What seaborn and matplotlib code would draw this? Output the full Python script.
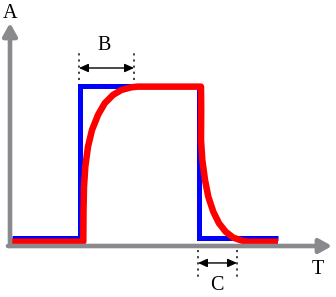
import matplotlib
matplotlib.use("Agg")
import matplotlib.pyplot as plt
import seaborn as sns
import pandas as pd

# ---- data (arbitrary units: T = time, A = amplitude) ----
blue_t = [0.2, 7.0, 7.0, 18.9, 18.9, 26.8]
blue_a = [0.05, 0.05, 1.0, 1.0, 0.05, 0.05]

red_t = [0.2, 7.33, 7.35, 7.4, 7.53, 7.8, 8.2, 8.8, 9.47, 10.3, 11.13, 12.13, 12.8,
         19.1, 19.12, 19.1, 19.23, 19.5, 19.83, 20.33, 20.9, 21.57, 22.33, 23.17, 23.8, 26.8]
red_a = [0.027, 0.027, 0.225, 0.371, 0.496, 0.621, 0.725, 0.819, 0.892, 0.944, 0.975, 0.992, 0.996,
         0.996, 0.85, 0.6625, 0.5375, 0.4125, 0.308, 0.214, 0.142, 0.089, 0.052, 0.034, 0.027, 0.027]

b_span = [6.9, 12.4]      # "B" interval (rise time)
c_span = [18.8, 22.7]     # "C" interval (fall time)
labels = {"A": (0.0, 1.45), "T": (30.8, -0.15), "B": (9.4, 1.25), "C": (20.7, -0.244)}

blue_df = pd.DataFrame({"T": blue_t, "A": blue_a})
red_df = pd.DataFrame({"T": red_t, "A": red_a})

sns.set_style("white")
plt.rcParams["font.family"] = ["Liberation Serif", "DejaVu Serif"]

fig = plt.figure(figsize=(3.36, 2.97), dpi=100)
ax = fig.add_axes([0, 0, 1, 1])

gray = "#8a8a8e"
# axes arrows
ax.annotate("", xy=(0, 1.394), xytext=(0, 0),
            arrowprops=dict(arrowstyle="-|>,head_length=0.75,head_width=0.42",
                            mutation_scale=10, color=gray, lw=3.3,
                            shrinkA=0, shrinkB=0))
ax.annotate("", xy=(32.2, 0), xytext=(-0.2, 0),
            arrowprops=dict(arrowstyle="-|>,head_length=0.75,head_width=0.42",
                            mutation_scale=10, color=gray, lw=3.3,
                            shrinkA=0, shrinkB=0))

sns.lineplot(data=blue_df, x="T", y="A", sort=False, estimator=None, color="#0000ff",
             lw=3.6, ax=ax, solid_joinstyle="miter", solid_capstyle="butt")
sns.lineplot(data=red_df, x="T", y="A", sort=False, estimator=None, color="#ff0000",
             lw=4.7, ax=ax, solid_joinstyle="round", solid_capstyle="butt")
ax.set_xlim(-1.0, 32.6)
ax.set_ylim(-0.31875, 1.5375)
ax.axis("off")

# dimension markers
dot = dict(color="#333333", lw=1.3, ls=(0, (1.2, 2.2)))
for x in b_span:
    ax.plot([x, x], [1.0375, 1.206], **dot)
for x in c_span:
    ax.plot([x, x], [-0.025, -0.194], **dot)
arr = dict(arrowstyle="<|-|>,head_length=0.55,head_width=0.25", mutation_scale=10,
           color="black", lw=1.0, shrinkA=0, shrinkB=0)
ax.annotate("", xy=(b_span[1], 1.1125), xytext=(b_span[0], 1.1125), arrowprops=arr)
ax.annotate("", xy=(c_span[1], -0.106), xytext=(c_span[0], -0.106), arrowprops=arr)

for txt, (x, y) in labels.items():
    ax.text(x, y, txt, fontsize=14.5, ha="center", va="center", color="black")

fig.savefig("out.png", dpi=100)
